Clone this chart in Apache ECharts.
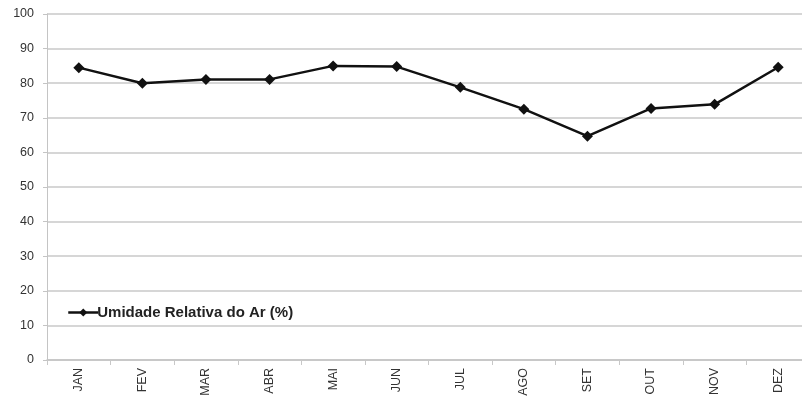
<!DOCTYPE html>
<html>
<head>
<meta charset="utf-8">
<script src="https://cdn.jsdelivr.net/npm/echarts@6/dist/echarts.min.js"></script>
<style>
html, body { margin: 0; padding: 0; background: #fff; overflow: hidden; }
#chart { width: 810px; height: 401px; }
</style>
</head>
<body>
<div id="chart"></div>
<script>
// Monthly relative air humidity (%)
const months = ['JAN', 'FEV', 'MAR', 'ABR', 'MAI', 'JUN', 'JUL', 'AGO', 'SET', 'OUT', 'NOV', 'DEZ'];
const humidity = [84.5, 80.0, 81.1, 81.1, 85.0, 84.8, 78.8, 72.5, 64.7, 72.7, 73.9, 84.6];
const seriesName = 'Umidade Relativa do Ar (%)';

const chart = echarts.init(document.getElementById('chart'));
chart.setOption({
  animation: false,
  backgroundColor: '#ffffff',
  textStyle: { fontFamily: 'Liberation Sans, Arial, sans-serif' },
  grid: { left: 47, right: 0, top: 14, bottom: 41, containLabel: false },
  legend: {
    left: 62,
    top: 300,
    itemWidth: 30,
    itemHeight: 10,
    itemGap: 2,
    data: [seriesName],
    lineStyle: { width: 2.5, color: '#111' },
    textStyle: { color: '#222', fontSize: 15, fontWeight: 'bold', padding: [0, 0, 0, -6] }
  },
  xAxis: {
    type: 'category',
    data: months,
    boundaryGap: true,
    axisLine: { show: true, lineStyle: { color: '#c4c4c4', width: 1.5 } },
    axisTick: { show: true, alignWithLabel: false, length: 5, lineStyle: { color: '#c8c8c8' } },
    axisLabel: { rotate: 90, color: '#333', fontSize: 12.5, margin: 8 }
  },
  yAxis: {
    type: 'value',
    min: 0,
    max: 100,
    interval: 10,
    axisLine: { show: true, lineStyle: { color: '#c4c4c4' } },
    axisTick: { show: true, length: 4, lineStyle: { color: '#c4c4c4' } },
    axisLabel: { color: '#333', fontSize: 12.5, margin: 13 },
    splitLine: { show: true, lineStyle: { color: '#c8c8c8', width: 1.5 } }
  },
  series: [{
    name: seriesName,
    type: 'line',
    data: humidity,
    symbol: 'diamond',
    symbolSize: 11,
    itemStyle: { color: '#111' },
    lineStyle: { color: '#111', width: 2.5 }
  }]
});
</script>
</body>
</html>
